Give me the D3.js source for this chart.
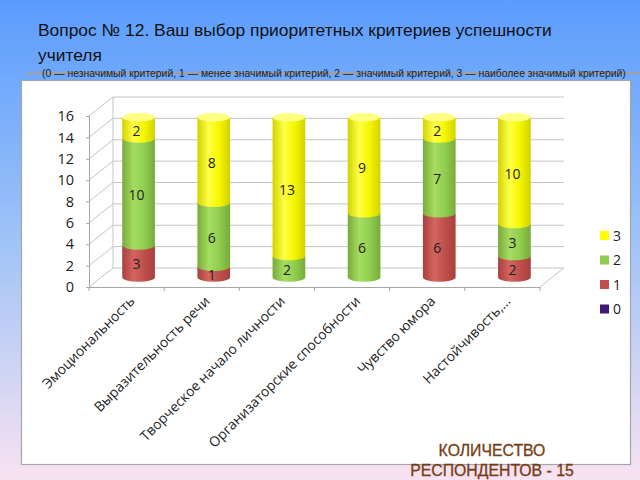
<!DOCTYPE html>
<html><head><meta charset="utf-8">
<script src="https://cdn.jsdelivr.net/npm/d3@7"></script>
<style>html,body{margin:0;padding:0;overflow:hidden;}</style>
</head><body>
<script>
const categories = ["Эмоциональность","Выразительность речи","Творческое начало личности","Организаторские способности","Чувство юмора","Настойчивость,..."];
const seriesNames = ["0","1","2","3"];
const s0 = [0,0,0,0,0,0];
const s1 = [3,1,0,0,6,2];
const s2 = [10,6,2,6,7,3];
const s3 = [2,8,13,9,2,10];
const yTicks = [0,2,4,6,8,10,12,14,16];
const titleLine1 = "Вопрос № 12. Ваш выбор приоритетных критериев успешности";
const titleLine2 = "учителя";
const subtitle = "(0 — незначимый критерий, 1 — менее значимый критерий, 2 — значимый критерий, 3 — наиболее значимый критерий)";
const note1 = "КОЛИЧЕСТВО";
const note2 = "РЕСПОНДЕНТОВ - 15";

const W = 640, H = 480;
const svg = d3.select("body").append("svg").attr("width", W).attr("height", H)
  .style("font-family", "'Liberation Sans', Arial, sans-serif");
const defs = svg.append("defs");

const bg = defs.append("linearGradient").attr("id","bg").attr("x1",0).attr("y1",0).attr("x2",0).attr("y2",1);
bg.append("stop").attr("offset","0").attr("stop-color","#5a9cfd");
bg.append("stop").attr("offset","0.5").attr("stop-color","#9fc3f6");
bg.append("stop").attr("offset","1").attr("stop-color","#f8e2f1");
svg.append("rect").attr("width",W).attr("height",H).attr("fill","url(#bg)");

// title
svg.append("text").attr("x",38).attr("y",36).attr("font-size",17.4).attr("fill","#111").text(titleLine1);
svg.append("text").attr("x",38).attr("y",61).attr("font-size",17.4).attr("fill","#111").text(titleLine2);

// panel
svg.append("rect").attr("x",21.5).attr("y",80.5).attr("width",609).attr("height",384)
  .attr("fill","#fff").attr("stroke","#a6a6a6").attr("stroke-width",1.2);

// subtitle line + text
svg.append("line").attr("x1",27).attr("x2",640).attr("y1",73).attr("y2",73).attr("stroke","#a0a0a0").attr("stroke-width",2);
svg.append("text").attr("x",42).attr("y",77).attr("font-size",10.4).attr("fill","#222").text(subtitle);

// scales
const x = d3.scaleBand().domain(categories).range([89,540]).paddingInner(0).paddingOuter(0);
const y = d3.scaleLinear().domain([0,16]).range([287,116]);
const DX = 24, DY = -19;
const grid = "#c4c4c4";

const g = svg.append("g");
g.selectAll(".bgrid").data(yTicks).join("line")
  .attr("x1",89+DX).attr("x2",540+DX).attr("y1",d=>y(d)+DY).attr("y2",d=>y(d)+DY)
  .attr("stroke",grid).attr("stroke-width",1);
g.selectAll(".sgrid").data(yTicks).join("line")
  .attr("x1",89).attr("y1",d=>y(d)).attr("x2",89+DX).attr("y2",d=>y(d)+DY)
  .attr("stroke",grid).attr("stroke-width",1);
g.append("line").attr("x1",89+DX).attr("x2",89+DX).attr("y1",y(0)+DY).attr("y2",y(16)+DY).attr("stroke",grid);
g.append("line").attr("x1",540).attr("y1",y(0)).attr("x2",540+DX).attr("y2",y(0)+DY).attr("stroke",grid);

// y axis
const yAxis = d3.axisLeft(y).tickValues(yTicks).tickSize(3).tickPadding(12);
const ya = svg.append("g").attr("transform","translate(89,0)").call(yAxis);
ya.selectAll("path,line").attr("stroke","#a6a6a6");
ya.selectAll("text").attr("font-family","'Open Sans', sans-serif").attr("font-size",14.5).attr("fill","#222");

// x axis
const xAxis = d3.axisBottom(x).tickSize(0).tickFormat("");
const xa = svg.append("g").attr("transform",`translate(0,${y(0)})`).call(xAxis);
xa.selectAll("path").attr("stroke","#a6a6a6");
const bounds = categories.map(c => x(c)).concat([x.range()[1]]);
svg.selectAll(".xt").data(bounds).join("line")
  .attr("x1",d=>d).attr("x2",d=>d).attr("y1",y(0)).attr("y2",y(0)+4).attr("stroke","#a6a6a6");
svg.selectAll(".xl").data(categories).join("text")
  .attr("transform",d=>`translate(${x(d)+x.bandwidth()/2+9},${y(0)+15}) rotate(-45)`)
  .attr("text-anchor","end").attr("font-family","'Open Sans', sans-serif").attr("font-size",13.8).attr("fill","#222")
  .text(d=>d);

// cylinder gradients
const palettes = {
  "1": {edge:"#a8403d", mid:"#d36561", base:"#c0504d", top:"#d77a77", leg:"#c0504d"},
  "2": {edge:"#78ab3a", mid:"#a6dc62", base:"#92d050", top:"#b2e27a", leg:"#8fcc4c"},
  "3": {edge:"#d2d200", mid:"#ffff48", base:"#f7f700", top:"#ffff80", leg:"#ffff00"},
  "0": {edge:"#2e0f5a", mid:"#55308f", base:"#3f1a74", top:"#6a4aa0", leg:"#3f1a74"}
};
Object.entries(palettes).forEach(([k,p])=>{
  const lg = defs.append("linearGradient").attr("id","cyl"+k).attr("x1",0).attr("x2",1).attr("y1",0).attr("y2",0);
  lg.append("stop").attr("offset","0").attr("stop-color",p.edge);
  lg.append("stop").attr("offset","0.35").attr("stop-color",p.mid);
  lg.append("stop").attr("offset","0.65").attr("stop-color",p.base);
  lg.append("stop").attr("offset","1").attr("stop-color",p.edge);
});

const seriesVals = [s0,s1,s2,s3];
const bw = x.bandwidth()*0.435;
const rx = bw/2, ry = 4.2;
const bdx = DX/2, bdy = DY/2;

categories.forEach((c,i)=>{
  const cx = x(c) + x.bandwidth()/2 + bdx;
  let acc = 0;
  const segs = [];
  seriesVals.forEach((arr,si)=>{
    const v = arr[i];
    if (v>0) segs.push({s:seriesNames[si], v0:acc, v1:acc+v, v});
    acc += v;
  });
  const bar = svg.append("g");
  segs.forEach((sg,j)=>{
    const yb = y(sg.v0)+bdy, yt = y(sg.v1)+bdy;
    const path = `M${cx-rx},${yt} L${cx-rx},${yb} A${rx},${ry} 0 0 0 ${cx+rx},${yb} L${cx+rx},${yt} Z`;
    bar.append("path").attr("d",path).attr("fill",`url(#cyl${sg.s})`);
    if (j===segs.length-1) {
      bar.append("ellipse").attr("cx",cx).attr("cy",yt).attr("rx",rx).attr("ry",ry)
        .attr("fill",palettes[sg.s].top);
    }
  });
  segs.forEach(sg=>{
    const ym = (y(sg.v0)+y(sg.v1))/2 + bdy + 3;
    bar.append("text").attr("x",cx-2).attr("y",ym).attr("dy","0.35em").attr("text-anchor","middle")
      .attr("font-family","'Open Sans', sans-serif").attr("font-size",14).attr("fill","#222").text(sg.v);
  });
});

// legend
const legendOrder = ["3","2","1","0"];
const legendY = [235.5,260,284.5,309];
const lgG = svg.append("g");
legendOrder.forEach((k,i)=>{
  lgG.append("rect").attr("x",600).attr("y",legendY[i]-4.5).attr("width",9).attr("height",9).attr("fill",palettes[k].leg);
  lgG.append("text").attr("x",613).attr("y",legendY[i]).attr("dy","0.36em")
    .attr("font-family","'Open Sans', sans-serif").attr("font-size",14).attr("fill","#222").text(k);
});

// note
svg.append("text").attr("x",492).attr("y",456).attr("text-anchor","middle").attr("font-size",15.8).attr("fill","#763c12").attr("stroke","#763c12").attr("stroke-width",0.3).text(note1);
svg.append("text").attr("x",492).attr("y",476).attr("text-anchor","middle").attr("font-size",15.8).attr("fill","#763c12").attr("stroke","#763c12").attr("stroke-width",0.3).text(note2);
</script>
</body></html>
